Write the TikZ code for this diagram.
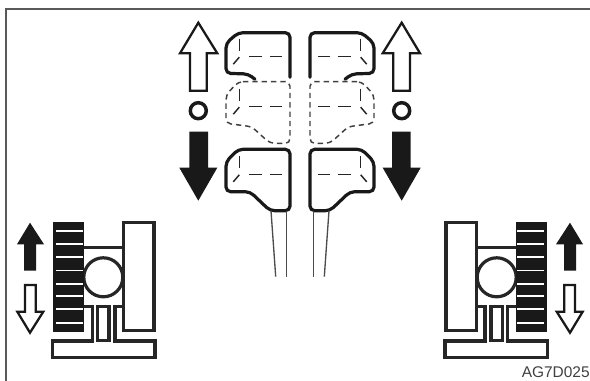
\documentclass[tikz,border=0pt]{standalone}
\usepackage{fontspec}
\setmainfont{Liberation Sans}
\tikzset{
  frameline/.style={line width=1.6pt,draw=black!65},
  capline/.style={line width=2.4pt,draw=black!90,rounded corners=3.5pt,line cap=round},
  ghostline/.style={line width=1.1pt,draw=black!75,rounded corners=3.5pt,dash pattern=on 4pt off 3pt},
  hiddenline/.style={line width=1.1pt,draw=black!85},
  legline/.style={line width=1pt,draw=black!70},
  hollowarrow/.style={line width=1.7pt,draw=black!90,fill=white,line join=miter},
  solidarrow/.style={fill=black!90},
  ringline/.style={line width=2.6pt,draw=black!90},
  partline/.style={line width=2.4pt,draw=black!85,line join=miter},
  slatline/.style={line width=1.2pt,draw=white}
}
\begin{document}
\begin{tikzpicture}[x=0.75pt,y=-0.75pt]
\useasboundingbox (0,0) rectangle (590,381);
\draw[frameline] (6,381) -- (6,9) -- (590,9);
\foreach \mx/\sx in {0/1,600/-1} {
\begin{scope}[shift={(\mx,0)},xscale=\sx]
% open and closed arrows with the ring between them
\draw[hollowarrow] (198.3,22.7) -- (217.3,53.3) -- (206.7,53.3) -- (206.7,90.7) -- (190,90.7) -- (190,53.3) -- (180,53.3) -- cycle;
\draw[ringline] (198.3,110.7) circle (8);
\fill[solidarrow] (189.3,131.7) -- (208,131.7) -- (208,167.7) -- (217.3,167.7) -- (198.3,200.7) -- (179.3,167.7) -- (189.3,167.7) -- cycle;
% three positions of the cap
\draw[capline] (255,79.3) -- (248.3,74) -- (226,73.3) -- (226,43.3) -- (238.3,32.7) -- (290,32.7) -- (290,77.3);
\draw[ghostline] (238.3,81.7) -- (290,81.7) -- (290,143.3) -- (270,143.3) -- (251.7,126.7) -- (226,123.3) -- (226,95) -- cycle;
\draw[capline] (238.3,149.3) -- (290,149.3) -- (290,210.7) -- (270,210.7) -- (250,191.7) -- (226,191.7) -- (226,161.7) -- cycle;
\foreach \h in {56.7,106.7,174.3} {
  \draw[hiddenline] (239.3,\h-18) -- (239.3,\h-6);
  \draw[hiddenline] (239.3,\h+0.5) -- (233.3,\h+7.5);
  \draw[hiddenline] (249.3,\h) -- (261.7,\h);
  \draw[hiddenline] (270,\h) -- (281.7,\h);
}
\draw[legline] (271,210.7) -- (275.7,276.7);
\draw[legline] (286.7,210.7) -- (286.7,276.7);
% side view of the lever
\fill[solidarrow] (30,222.7) -- (44,244.3) -- (36,244.3) -- (36,270.7) -- (24,270.7) -- (24,244.3) -- (17,244.3) -- cycle;
\draw[hollowarrow] (25,285) -- (35.7,285) -- (35.7,311.7) -- (43.3,311.7) -- (30,332.7) -- (17.3,311.7) -- (25,311.7) -- cycle;
\draw[partline] (123.3,222.7) rectangle (154,330.7);
\draw[partline] (84,247.7) -- (123.3,247.7);
\draw[partline] (103.3,277.3) circle (19.5);
\draw[partline] (84,306.7) -- (92.3,306.7) -- (92.3,341) -- (52.3,341) -- (52.3,357.3) -- (155,357.3) -- (155,341) -- (115,341) -- (115,306.7) -- (123.3,306.7);
\draw[partline] (97.7,306.7) rectangle (109,340.5);
\fill[solidarrow] (52.7,221.7) rectangle (84,332.3);
\foreach \h in {231,244.3,257.3,270.7,284,296.3,309.3,323} {
  \draw[slatline] (56,\h) -- (82.7,\h);
}
\end{scope}
}
\node[anchor=base west,inner sep=0pt,text=black!75,font=\fontsize{11.6pt}{12pt}\selectfont] (code) at (521.5,377.5) {AG7D025};
\end{tikzpicture}
\end{document}
